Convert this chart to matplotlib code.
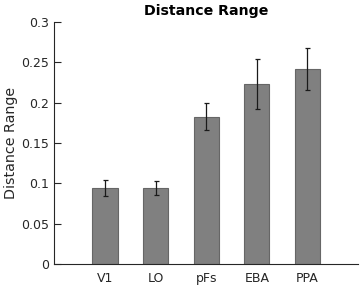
import matplotlib
matplotlib.use('Agg')
import matplotlib.pyplot as plt

regions = ['V1', 'LO', 'pFs', 'EBA', 'PPA']
means = [0.094, 0.094, 0.183, 0.223, 0.242]
errs = [0.010, 0.0087, 0.017, 0.031, 0.026]

fig = plt.figure(figsize=(3.63, 2.88), dpi=100)
ax = fig.add_axes([0.150, 0.083, 0.836, 0.840])

pos = list(range(1, len(regions) + 1))
ax.bar(pos, means, width=0.5, color='#808080', edgecolor='#666666', lw=0.8, zorder=2)
ax.errorbar(pos, means, yerr=errs, fmt='none', ecolor='#1a1a1a', elinewidth=0.9,
            capsize=1.8, capthick=0.9, zorder=3)

ax.set_xlim(0, 6)
ax.set_ylim(0, 0.3)
ax.set_xticks(pos)
ax.set_xticklabels(regions)
ax.set_yticks([0, 0.05, 0.1, 0.15, 0.2, 0.25, 0.3])
ax.set_yticklabels(['0', '0.05', '0.1', '0.15', '0.2', '0.25', '0.3'])
ax.tick_params(axis='y', direction='in', length=5, width=0.8, colors='#262626',
               labelsize=9, pad=4)
ax.tick_params(axis='x', length=0, colors='#262626', labelsize=9, pad=6)
for s in ['top', 'right']:
    ax.spines[s].set_visible(False)
for s in ['left', 'bottom']:
    ax.spines[s].set_color('#262626')
    ax.spines[s].set_linewidth(0.8)

ax.set_ylabel('Distance Range', fontsize=10.3, color='#262626', labelpad=2)
ax.set_title('Distance Range', fontsize=10.2, fontweight='bold', pad=5)

fig.savefig('out.png', dpi=100)
